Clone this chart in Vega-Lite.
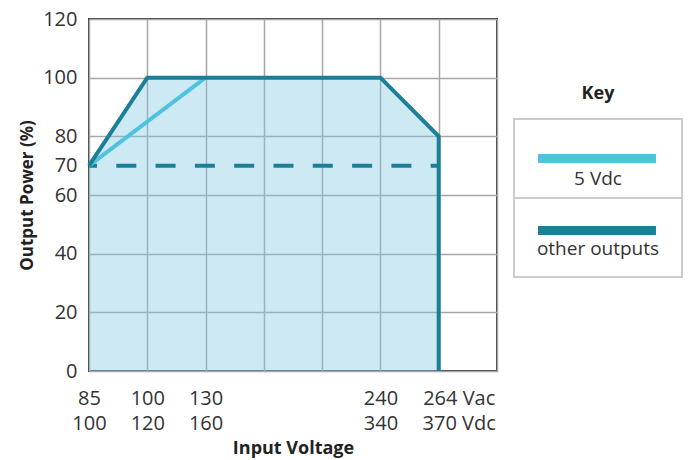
{
  "$schema": "https://vega.github.io/schema/vega-lite/v6.json",
  "padding": {"left": 17, "top": 8, "right": 5, "bottom": 5},
  "background": "white",
  "config": {
    "font": "Open Sans",
    "view": {"stroke": "#3a3a3a", "strokeWidth": 2},
    "concat": {"spacing": 15}
  },
  "datasets": {
    "curves": [
      {"series": "other outputs", "part": "solid", "ord": 0, "step": 0, "power": 70},
      {"series": "other outputs", "part": "solid", "ord": 1, "step": 1, "power": 100},
      {"series": "other outputs", "part": "solid", "ord": 2, "step": 5, "power": 100},
      {"series": "other outputs", "part": "solid", "ord": 3, "step": 6, "power": 80},
      {"series": "other outputs", "part": "solid", "ord": 4, "step": 6, "power": 0},
      {"series": "5 Vdc", "part": "solid", "ord": 0, "step": 0, "power": 70},
      {"series": "5 Vdc", "part": "solid", "ord": 1, "step": 2, "power": 100},
      {"series": "other outputs", "part": "dashed", "ord": 0, "step": 0, "power": 70},
      {"series": "other outputs", "part": "dashed", "ord": 1, "step": 6, "power": 70}
    ],
    "key": [
      {"series": "5 Vdc"},
      {"series": "other outputs"}
    ]
  },
  "hconcat": [
    {
      "width": 408,
      "height": 352,
      "data": {"name": "curves"},
      "encoding": {
        "x": {
          "field": "step",
          "type": "quantitative",
          "scale": {"domain": [0, 7], "nice": false, "zero": false},
          "axis": {
            "values": [0, 1, 2, 3, 4, 5, 6, 7],
            "labelExpr": "datum.value==0?['85','100']:datum.value==1?['100','120']:datum.value==2?['130','160']:datum.value==5?['240','340']:datum.value==6?['264 Vac','370 Vdc']:''",
            "labelFontSize": 20,
            "labelColor": "#333",
            "labelLineHeight": 25,
            "labelPadding": 17,
            "labelFlush": false,
            "labelOverlap": false,
            "labelOffset": {"condition": {"test": "datum.value==6", "value": 20}, "value": 0},
            "domain": false,
            "ticks": false,
            "grid": true,
            "gridColor": "#a6a6a6",
            "gridWidth": 1.5,
            "title": "Input Voltage",
            "titleFontSize": 18,
            "titleFontWeight": "bold",
            "titleColor": "#222",
            "titlePadding": 6
          }
        },
        "y": {
          "field": "power",
          "type": "quantitative",
          "scale": {"domain": [0, 120], "nice": false},
          "axis": {
            "values": [0, 20, 40, 60, 70, 80, 100, 120],
            "labelFontSize": 20,
            "labelColor": "#333",
            "labelPadding": 12,
            "labelFlush": false,
            "domain": false,
            "ticks": false,
            "grid": true,
            "gridColor": "#a6a6a6",
            "gridWidth": 1.5,
            "gridOpacity": {"condition": {"test": "datum.value==70", "value": 0}, "value": 1},
            "title": "Output Power (%)",
            "titleFontSize": 17,
            "titleFontWeight": "bold",
            "titleColor": "#222",
            "titlePadding": 6
          }
        }
      },
      "layer": [
        {
          "transform": [{"filter": "datum.series=='other outputs' && datum.part=='solid' && datum.ord<4"}],
          "mark": {"type": "area", "color": "#80c9e4", "opacity": 0.4}
        },
        {
          "transform": [{"filter": "datum.part=='dashed'"}],
          "mark": {"type": "line", "color": "#1c7f98", "strokeWidth": 4, "strokeDash": [20, 19.3], "strokeDashOffset": 12},
          "encoding": {"order": {"field": "ord"}}
        },
        {
          "transform": [{"filter": "datum.series=='5 Vdc'"}],
          "mark": {"type": "line", "strokeWidth": 4},
          "encoding": {
            "order": {"field": "ord"},
            "color": {"field": "series", "type": "nominal", "scale": {"domain": ["5 Vdc", "other outputs"], "range": ["#4fc3dd", "#1c7f98"]}, "legend": null}
          }
        },
        {
          "transform": [{"filter": "datum.series=='other outputs' && datum.part=='solid'"}],
          "mark": {"type": "line", "strokeWidth": 4, "strokeJoin": "miter"},
          "encoding": {
            "order": {"field": "ord"},
            "color": {"field": "series", "type": "nominal", "scale": {"domain": ["5 Vdc", "other outputs"], "range": ["#4fc3dd", "#1c7f98"]}, "legend": null}
          }
        }
      ]
    },
    {
      "width": 168,
      "height": 316,
      "data": {"name": "key"},
      "view": {"stroke": null},
      "title": {"text": "Key", "fontSize": 18, "fontWeight": "bold", "color": "#222", "offset": -84, "anchor": "middle"},
      "encoding": {
        "y": {
          "field": "series",
          "type": "nominal",
          "sort": null,
          "scale": {"paddingInner": 0, "paddingOuter": 1, "align": 0.633},
          "axis": null
        }
      },
      "layer": [
        {
          "mark": {"type": "rect", "fill": "white", "stroke": "#cccccc", "strokeWidth": 2},
          "encoding": {
            "x": {"datum": 0, "type": "quantitative", "scale": {"domain": [0, 1], "nice": false}, "axis": null},
            "x2": {"datum": 1}
          }
        },
        {
          "mark": {"type": "rule", "strokeWidth": 9, "yOffset": {"expr": "datum.series == '5 Vdc' ? 0 : -7"}},
          "encoding": {
            "x": {"datum": 0.143, "type": "quantitative"},
            "x2": {"datum": 0.845},
            "color": {"field": "series", "type": "nominal", "scale": {"domain": ["5 Vdc", "other outputs"], "range": ["#4fc3dd", "#1c7f98"]}, "legend": null}
          }
        },
        {
          "mark": {"type": "text", "fontSize": 19, "color": "#333", "yOffset": {"expr": "datum.series == '5 Vdc' ? 20 : 11"}},
          "encoding": {
            "x": {"datum": 0.5, "type": "quantitative"},
            "text": {"field": "series"}
          }
        }
      ]
    }
  ]
}
